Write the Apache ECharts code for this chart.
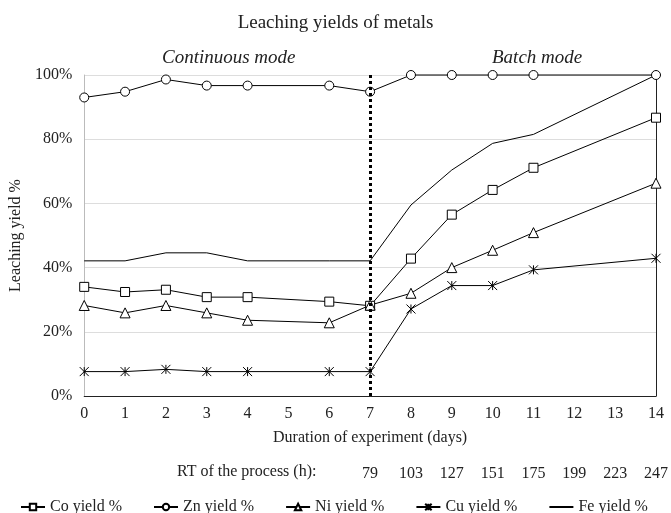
<!DOCTYPE html>
<html>
<head>
<meta charset="utf-8">
<script src="https://cdn.jsdelivr.net/npm/echarts@6/dist/echarts.min.js"></script>
<style>
  html, body { margin: 0; padding: 0; background: #fff; }
  #chart { width: 671px; height: 513px; }
</style>
</head>
<body>
<div id="chart"></div>
<script>
// days of experiment, day 5, 12 and 13 have no measurement
const days = ['0', '1', '2', '3', '4', '5', '6', '7', '8', '9', '10', '11', '12', '13', '14']
const rtLabels = ['', '', '', '', '', '', '', '79', '103', '127', '151', '175', '199', '223', '247']

const coYield = [34, 32.4, 33.1, 30.8, 30.8, null, 29.4, 28.1, 42.8, 56.5, 64.2, 71.1, null, null, 86.7]
const znYield = [93, 94.8, 98.6, 96.7, 96.7, null, 96.7, 94.8, 100, 100, 100, 100, null, null, 100]
const niYield = [28.2, 25.9, 28.2, 25.9, 23.6, null, 22.8, 28.3, 32, 40, 45.4, 50.9, null, null, 66.3]
const cuYield = [7.6, 7.6, 8.3, 7.6, 7.6, null, 7.6, 7.6, 27.1, 34.4, 34.4, 39.3, null, null, 42.9]
const feYield = [42.1, 42.1, 44.6, 44.6, 42.1, null, 42.1, 42.1, 59.5, 70.4, 78.7, 81.5, null, null, 100]

const modeSwitchIndex = 7
const font = "'Liberation Serif', 'Times New Roman', serif"
const asterisk = 'path://M0,0L10,10M10,0L0,10M5,0L5,10'

function lineSeries(name, data, symbol, size) {
  return {
    name: name,
    type: 'line',
    data: data,
    connectNulls: true,
    symbol: symbol,
    symbolSize: size,
    showAllSymbol: true,
    clip: false,
    lineStyle: { color: '#000', width: 1 },
    itemStyle: {
      color: symbol === asterisk ? 'rgba(0,0,0,0)' : '#fff',
      borderColor: '#000',
      borderWidth: 1
    },
    emphasis: { disabled: true }
  }
}

const series = [
  lineSeries('Co yield %', coYield, 'rect', 9),
  lineSeries('Zn yield %', znYield, 'circle', 9),
  lineSeries('Ni yield %', niYield, 'triangle', 10),
  lineSeries('Cu yield %', cuYield, asterisk, 9),
  lineSeries('Fe yield %', feYield, 'none', 0)
]

// dotted separator between continuous and batch mode
series[4].markLine = {
  silent: true,
  symbol: ['none', 'none'],
  label: { show: false },
  lineStyle: { color: '#000', type: 'dotted', width: 3 },
  data: [{ xAxis: modeSwitchIndex }]
}

const option = {
  animation: false,
  textStyle: { fontFamily: font, color: '#222' },
  title: {
    text: 'Leaching yields of metals',
    left: 'center',
    top: 9,
    textStyle: { fontFamily: font, fontSize: 19, fontWeight: 'normal', color: '#222' }
  },
  graphic: [
    { type: 'text', left: 162, top: 48, style: { text: 'Continuous mode', font: 'italic 19px ' + font, fill: '#222' } },
    { type: 'text', left: 492, top: 48, style: { text: 'Batch mode', font: 'italic 19px ' + font, fill: '#222' } },
    { type: 'text', left: 177, top: 464, style: { text: 'RT of the process (h):', font: '16px ' + font, fill: '#222' } }
  ],
  legend: {
    top: 494,
    left: 15,
    itemGap: 31,
    itemWidth: 24,
    itemHeight: 8,
    textStyle: { fontFamily: font, fontSize: 16, color: '#222' },
    data: ['Co yield %', 'Zn yield %', 'Ni yield %', 'Cu yield %',
      { name: 'Fe yield %', itemStyle: { opacity: 0 } }]
  },
  grid: { left: 81, right: 13, top: 75, bottom: 117 },
  xAxis: [
    {
      type: 'category',
      data: days,
      boundaryGap: false,
      name: 'Duration of experiment (days)',
      nameLocation: 'middle',
      nameGap: 34,
      nameTextStyle: { fontFamily: font, fontSize: 16, color: '#222' },
      axisLine: { lineStyle: { color: '#bbb' } },
      axisTick: { show: false },
      axisLabel: { fontFamily: font, fontSize: 16, color: '#222', margin: 10, interval: 0 }
    },
    {
      type: 'category',
      data: days,
      boundaryGap: false,
      position: 'top',
      axisLine: { lineStyle: { color: '#222' } },
      axisTick: { show: false },
      axisLabel: { show: false }
    },
    {
      type: 'category',
      data: rtLabels,
      boundaryGap: false,
      position: 'bottom',
      offset: 70,
      axisLine: { show: false },
      axisTick: { show: false },
      axisLabel: { fontFamily: font, fontSize: 16, color: '#222', margin: 0, interval: 0 }
    }
  ],
  yAxis: [
    {
      type: 'value',
      min: 0,
      max: 100,
      interval: 20,
      name: 'Leaching yield %',
      nameLocation: 'middle',
      nameGap: 54,
      nameTextStyle: { fontFamily: font, fontSize: 16, color: '#222' },
      axisLine: { show: true, lineStyle: { color: '#bbb' } },
      axisTick: { show: false },
      axisLabel: { fontFamily: font, fontSize: 16, color: '#222', margin: 12, formatter: '{value}%' },
      splitLine: { lineStyle: { color: '#ddd' } }
    },
    {
      type: 'value',
      min: 0,
      max: 100,
      interval: 20,
      position: 'right',
      axisLine: { show: true, lineStyle: { color: '#222' } },
      axisTick: { show: false },
      axisLabel: { show: false },
      splitLine: { show: false }
    }
  ],
  series: series
}

const chart = echarts.init(document.getElementById('chart'))
chart.setOption(option)
</script>
</body>
</html>
